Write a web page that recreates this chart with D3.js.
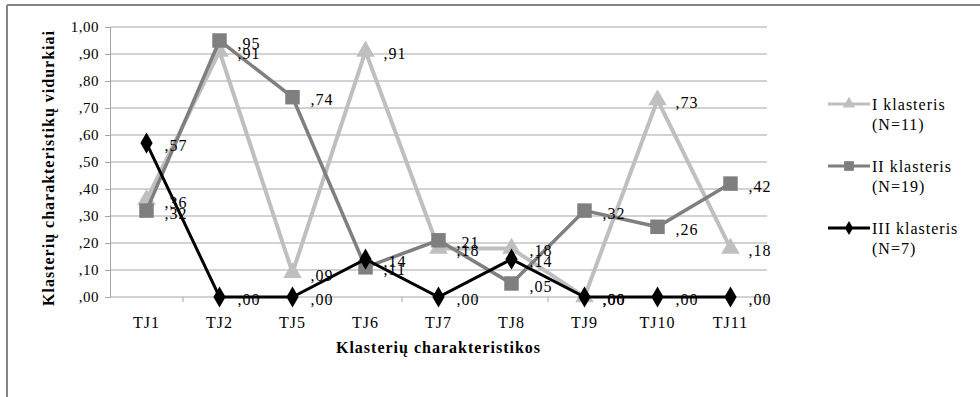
<!DOCTYPE html>
<html>
<head>
<meta charset="utf-8">
<script src="https://cdn.jsdelivr.net/npm/d3@7/dist/d3.min.js"></script>
<style>
    body { margin: 0; background: #fff; }
    text { font-family: "Liberation Serif", "Times New Roman", serif; fill: #000; }
</style>
</head>
<body>
<svg id="chart" width="980" height="397"></svg>
<script>
// Chart data
var categories = ["TJ1", "TJ2", "TJ5", "TJ6", "TJ7", "TJ8", "TJ9", "TJ10", "TJ11"];
var cluster1 = [0.36, 0.91, 0.09, 0.91, 0.18, 0.18, 0.00, 0.73, 0.18];
var cluster2 = [0.32, 0.95, 0.74, 0.11, 0.21, 0.05, 0.32, 0.26, 0.42];
var cluster3 = [0.57, 0.00, 0.00, 0.14, 0.00, 0.14, 0.00, 0.00, 0.00];
var seriesNames = ["I klasteris", "II klasteris", "III klasteris"];
var seriesCounts = ["(N=11)", "(N=19)", "(N=7)"];
var yTicks = [0, 0.1, 0.2, 0.3, 0.4, 0.5, 0.6, 0.7, 0.8, 0.9, 1.0];

var svg = d3.select("#chart");

var plot = { left: 110, right: 767, top: 27, bottom: 297 };

var series = [
    { name: seriesNames[0], count: seriesCounts[0], values: cluster1, color: "#bfbfbf", width: 4, symbol: d3.symbolTriangle, size: 150 },
    { name: seriesNames[1], count: seriesCounts[1], values: cluster2, color: "#7f7f7f", width: 3.5, symbol: d3.symbolSquare, size: 210 },
    { name: seriesNames[2], count: seriesCounts[2], values: cluster3, color: "#000000", width: 3, symbol: d3.symbolDiamond, size: 130 }
];

// number format like ",95" (comma decimal, no leading zero)
function fmt(v) {
    var s = d3.format(".2f")(v).replace(".", ",");
    return s.charAt(0) === "0" ? s.slice(1) : s;
}

var x = d3.scaleBand().domain(categories).range([plot.left, plot.right]);
var y = d3.scaleLinear().domain([0, 1]).range([plot.bottom, plot.top]);

// outer frame (only top and left edges are visible)
svg.append("line").attr("x1", 7).attr("x2", 980).attr("y1", 5).attr("y2", 5)
    .attr("stroke", "#868686").attr("stroke-width", 2);
svg.append("line").attr("x1", 7).attr("x2", 7).attr("y1", 5).attr("y2", 397)
    .attr("stroke", "#868686").attr("stroke-width", 2);

// gridlines
svg.append("g").selectAll("line").data(yTicks.slice(1)).join("line")
    .attr("x1", plot.left).attr("x2", plot.right)
    .attr("y1", function (d) { return y(d); }).attr("y2", function (d) { return y(d); })
    .attr("stroke", "#a6a6a6").attr("stroke-width", 1);

// y axis
var yAxis = svg.append("g").attr("transform", "translate(" + plot.left + ",0)")
    .call(d3.axisLeft(y).tickValues(yTicks).tickFormat(fmt).tickSize(5).tickPadding(6));
yAxis.attr("font-family", null);
yAxis.select(".domain").attr("stroke", "#a6a6a6");
yAxis.selectAll(".tick line").attr("stroke", "#a6a6a6");
yAxis.selectAll("text").style("font-size", "15px").style("letter-spacing", "0.5px").attr("fill", "#000");

// x axis line with ticks between categories
svg.append("line").attr("x1", plot.left).attr("x2", plot.right)
    .attr("y1", plot.bottom).attr("y2", plot.bottom)
    .attr("stroke", "#a6a6a6");
svg.append("g").selectAll("line").data(categories).join("line")
    .attr("x1", function (d) { return x(d) + x.bandwidth(); })
    .attr("x2", function (d) { return x(d) + x.bandwidth(); })
    .attr("y1", plot.bottom).attr("y2", plot.bottom + 5)
    .attr("stroke", "#a6a6a6");
svg.append("g").selectAll("text").data(categories).join("text")
    .attr("x", function (d) { return x(d) + x.bandwidth() / 2; })
    .attr("y", plot.bottom + 31)
    .attr("text-anchor", "middle")
    .style("font-size", "16px")
    .style("letter-spacing", "1px")
    .text(function (d) { return d; });

// axis titles
svg.append("text").attr("x", (plot.left + plot.right) / 2).attr("y", 353)
    .attr("text-anchor", "middle")
    .style("font-size", "16px").style("font-weight", "bold").style("letter-spacing", "1px")
    .text("Klasterių charakteristikos");
svg.append("text").attr("transform", "translate(54,168) rotate(-90)")
    .attr("text-anchor", "middle")
    .style("font-size", "16px").style("font-weight", "bold").style("letter-spacing", "1px")
    .text("Klasterių charakteristikų vidurkiai");

// series lines and markers
var line = d3.line()
    .x(function (d, i) { return x(categories[i]) + x.bandwidth() / 2; })
    .y(function (d) { return y(d); });

series.forEach(function (s) {
    var g = svg.append("g");
    g.append("path").datum(s.values)
        .attr("d", line).attr("fill", "none")
        .attr("stroke", s.color).attr("stroke-width", s.width)
        .attr("stroke-linejoin", "miter");
    g.selectAll("path.marker").data(s.values).join("path")
        .attr("class", "marker")
        .attr("transform", function (d, i) {
            return "translate(" + (x(categories[i]) + x.bandwidth() / 2) + "," + y(d) + ")";
        })
        .attr("d", d3.symbol().type(s.symbol).size(s.size))
        .attr("fill", s.color);
});

// data labels
series.forEach(function (s) {
    svg.append("g").selectAll("text").data(s.values).join("text")
        .attr("x", function (d, i) { return x(categories[i]) + x.bandwidth() / 2 + 18; })
        .attr("y", function (d) { return y(d) + 8; })
        .style("font-size", "16px")
        .style("letter-spacing", "1px")
        .text(fmt);
});

// legend
var legend = svg.append("g");
series.forEach(function (s, i) {
    var ly = 104 + i * 62;
    var item = legend.append("g").attr("transform", "translate(828," + ly + ")");
    item.append("line").attr("x1", 0).attr("x2", 42).attr("y1", 0).attr("y2", 0)
        .attr("stroke", s.color).attr("stroke-width", 3);
    item.append("path").attr("transform", "translate(21,0)")
        .attr("d", d3.symbol().type(s.symbol).size(s.size * 0.45))
        .attr("fill", s.color);
    item.append("text").attr("x", 44).attr("y", 6)
        .style("font-size", "16px").style("letter-spacing", "1px").text(s.name);
    item.append("text").attr("x", 44).attr("y", 26)
        .style("font-size", "16px").style("letter-spacing", "1px").text(s.count);
});
</script>
</body>
</html>
